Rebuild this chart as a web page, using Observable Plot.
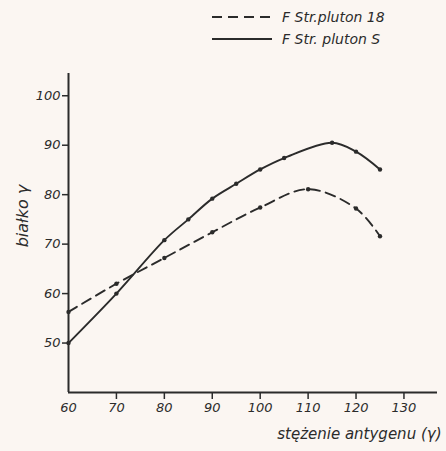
<!DOCTYPE html>
<html><head><meta charset="utf-8">
<script src="https://cdn.jsdelivr.net/npm/d3@7"></script>
<script src="https://cdn.jsdelivr.net/npm/@observablehq/plot@0.6"></script>
<style>
html,body{margin:0;padding:0;background:#fbf6f2;}
#wrap{position:relative;width:446px;height:451px;font-family:"DejaVu Sans",sans-serif;font-style:italic;color:#2b2b2b;}
#legend{position:absolute;left:212px;top:6px;font-size:14px;line-height:22px;}
#legend div{display:flex;align-items:center;gap:10px;}
</style></head>
<body><div id="wrap"><div id="legend"></div><div id="chart"></div></div>
<script>
const xTicks = [60, 70, 80, 90, 100, 110, 120, 130];
const yTicks = [50, 60, 70, 80, 90, 100];
const seriesNames = ["F Str.pluton 18", "F Str. pluton S"];
const strain18X = [60, 70, 80, 90, 100, 110, 120, 125];
const strain18Y = [56.3, 62.0, 67.2, 72.4, 77.4, 81.1, 77.2, 71.6];
const strainSX = [60, 70, 80, 85, 90, 95, 100, 105, 115, 120, 125];
const strainSY = [50.0, 60.0, 70.8, 75.0, 79.2, 82.2, 85.1, 87.4, 90.5, 88.7, 85.1];
const xLabel = "stężenie antygenu (γ)";
const yLabel = "białko γ";

const ink = "#2b2b2b";
const d18 = strain18X.map((x, i) => ({x, y: strain18Y[i]}));
const dS = strainSX.map((x, i) => ({x, y: strainSY[i]}));
const font = {fontFamily: "DejaVu Sans, sans-serif", fontStyle: "italic", fontSize: "13px"};

const chart = Plot.plot({
  width: 446, height: 451,
  marginLeft: 68, marginRight: 9, marginTop: 73, marginBottom: 59,
  style: {background: "transparent", color: ink, ...font},
  x: {domain: [60, 137], ticks: xTicks},
  y: {domain: [40, 104.5], ticks: yTicks},
  marks: [
    Plot.ruleX([60], {y1: 40, y2: 104.5, stroke: ink, strokeWidth: 2}),
    Plot.ruleY([40], {x1: 60, x2: 137, stroke: ink, strokeWidth: 2}),
    Plot.axisX({ticks: xTicks.slice(1), tickSize: 7, tickPadding: 3, label: null, tickFormat: d => d, stroke: ink, strokeWidth: 1.5}),
    Plot.axisX({ticks: [60], tickSize: 0, tickPadding: 10, label: null, tickFormat: d => d}),
    Plot.axisY({ticks: yTicks, tickSize: 6, tickPadding: 2, label: null, tickFormat: d => d, strokeWidth: 1.5}),
    Plot.text([xLabel], {frameAnchor: "bottom-right", dy: 46, dx: 4, fontSize: 15, fontStyle: "italic", fill: ink, textAnchor: "end"}),
    Plot.text([yLabel], {frameAnchor: "left", dx: -46, dy: -17, rotate: -90, fontSize: 16, fontStyle: "italic", fill: ink, textAnchor: "middle"}),
    Plot.line(d18, {x: "x", y: "y", curve: "catmull-rom", stroke: ink, strokeWidth: 1.9, strokeDasharray: "10,6"}),
    Plot.dot(d18, {x: "x", y: "y", r: 2.2, fill: ink}),
    Plot.line(dS, {x: "x", y: "y", curve: "catmull-rom", stroke: ink, strokeWidth: 1.9}),
    Plot.dot(dS, {x: "x", y: "y", r: 2.2, fill: ink})
  ]
});
document.getElementById("chart").appendChild(chart);

const legend = document.getElementById("legend");
const dashes = ["10,6", null];
seriesNames.forEach((name, i) => {
  const row = document.createElement("div");
  const dash = dashes[i] ? ` stroke-dasharray="${dashes[i]}"` : "";
  row.innerHTML = `<svg width="60" height="8"><line x1="0" x2="60" y1="4" y2="4" stroke="${ink}" stroke-width="1.8"${dash}/></svg><span>${name}</span>`;
  legend.appendChild(row);
});
</script></body></html>
